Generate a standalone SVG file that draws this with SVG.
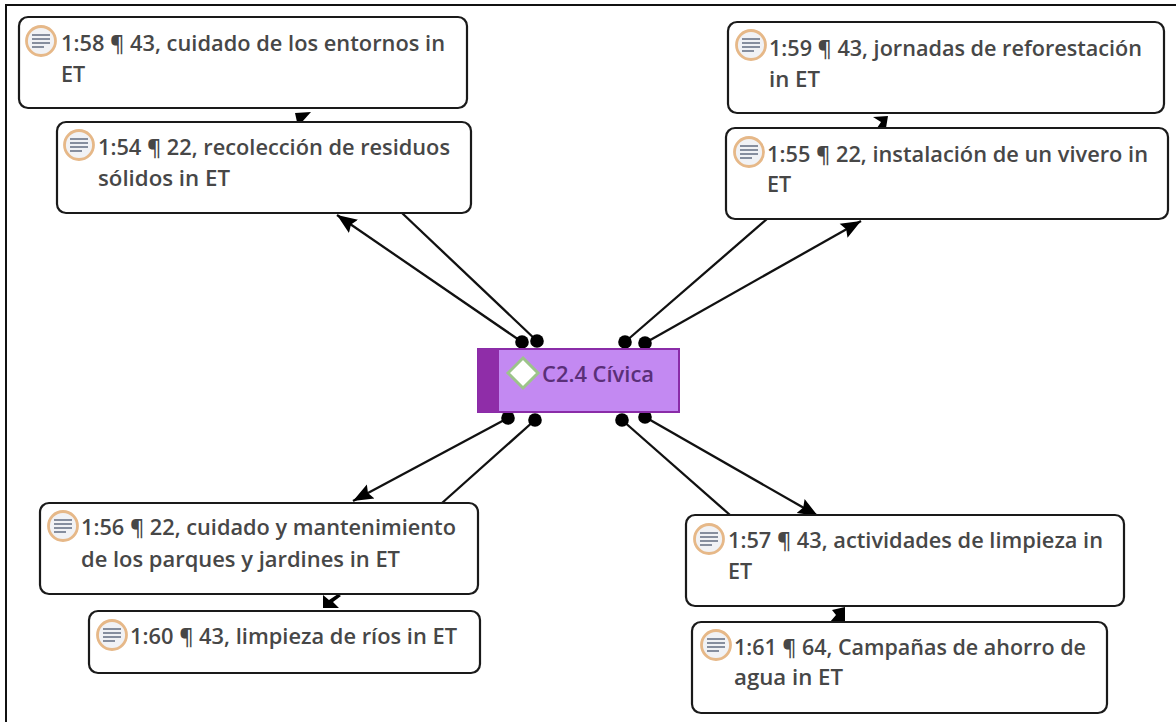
<svg xmlns="http://www.w3.org/2000/svg" width="1176" height="722" viewBox="0 0 1176 722">
<style>
.box{fill:#fff;stroke:#1a1a1a;stroke-width:2.200}
.t{font-family:"Open Sans","Noto Sans",sans-serif;font-size:21.500px;font-weight:600;fill:#474747}
.c{stroke:#111;stroke-width:2.300;fill:none}
.d{fill:#000}
.ic{fill:#f1f2f5;stroke:#e6b888;stroke-width:2.800}
.il{stroke:#868e9e;stroke-width:2.200;fill:none}
</style>
<defs>
<g id="doc"><circle cx="0" cy="0" r="14.500" class="ic"/><path class="il" d="M-9-6H9M-9-2H9M-9 2H9M-9 6H3"/></g>
<marker id="a" markerUnits="userSpaceOnUse" markerWidth="22" markerHeight="18" refX="20" refY="9" orient="auto"><path d="M0 1L20 9L0 17L3 9Z" fill="#000"/></marker>
</defs>
<rect width="1176" height="722" fill="#fff"/>
<path d="M6 722V5H1176" fill="none" stroke="#111" stroke-width="2"/>
<g id="connectors">
<path class="c" d="M522 342L337 215" marker-end="url(#a)"/>
<path class="c" d="M537 341L402 213"/>
<path class="c" d="M625 342L767 219"/>
<path class="c" d="M645 343L861 221" marker-end="url(#a)"/>
<path class="c" d="M508 418L353 501" marker-end="url(#a)"/>
<path class="c" d="M535 420L442 503"/>
<path class="c" d="M622 420L730 515"/>
<path class="c" d="M645 417L818 516" marker-end="url(#a)"/>
<path class="d" d="M295 113L311 112L302 122L297 122Z"/>
<path class="d" d="M873 117L888 116L886 128L877 128L881 122Z"/>
<path class="d" d="M323 595L329 600L338 594L341 596L333 602L339 608L323 608Z"/>
<path class="d" d="M845 607L845 622L830 622L836 615L832 610Z"/>
<circle class="d" cx="522" cy="342" r="6.800"/><circle class="d" cx="537" cy="341" r="6.800"/>
<circle class="d" cx="625" cy="342" r="6.800"/><circle class="d" cx="645" cy="343" r="6.800"/>
<circle class="d" cx="508" cy="418" r="6.800"/><circle class="d" cx="535" cy="420" r="6.800"/>
<circle class="d" cx="622" cy="420" r="6.800"/><circle class="d" cx="645" cy="417" r="6.800"/>
</g>
<g id="n58"><rect class="box" x="19" y="17" width="448" height="91" rx="9"/><use href="#doc" x="41" y="41"/><text class="t" x="61" y="51" textLength="384" lengthAdjust="spacingAndGlyphs">1:58 ¶ 43, cuidado de los entornos in</text><text class="t" x="61" y="82">ET</text></g>
<g id="n54"><rect class="box" x="57" y="122" width="414" height="91" rx="9"/><use href="#doc" x="79" y="145"/><text class="t" x="98" y="155" textLength="352" lengthAdjust="spacingAndGlyphs">1:54 ¶ 22, recolección de residuos</text><text class="t" x="98" y="186" textLength="132" lengthAdjust="spacingAndGlyphs">sólidos in ET</text></g>
<g id="n59"><rect class="box" x="728" y="22" width="436" height="91" rx="9"/><use href="#doc" x="751" y="45"/><text class="t" x="769" y="56" textLength="373" lengthAdjust="spacingAndGlyphs">1:59 ¶ 43, jornadas de reforestación</text><text class="t" x="769" y="87" textLength="51" lengthAdjust="spacingAndGlyphs">in ET</text></g>
<g id="n55"><rect class="box" x="726" y="128" width="442" height="91" rx="9"/><use href="#doc" x="749" y="152"/><text class="t" x="767" y="162" textLength="381" lengthAdjust="spacingAndGlyphs">1:55 ¶ 22, instalación de un vivero in</text><text class="t" x="767" y="192">ET</text></g>
<g id="n56"><rect class="box" x="40" y="503" width="438" height="91" rx="9"/><use href="#doc" x="63" y="526"/><text class="t" x="81" y="535" textLength="375" lengthAdjust="spacingAndGlyphs">1:56 ¶ 22, cuidado y mantenimiento</text><text class="t" x="81" y="567" textLength="319" lengthAdjust="spacingAndGlyphs">de los parques y jardines in ET</text></g>
<g id="n60"><rect class="box" x="89" y="611" width="391" height="62" rx="9"/><use href="#doc" x="112" y="635"/><text class="t" x="130" y="644" textLength="327" lengthAdjust="spacingAndGlyphs">1:60 ¶ 43, limpieza de ríos in ET</text></g>
<g id="n57"><rect class="box" x="686" y="515" width="438" height="91" rx="9"/><use href="#doc" x="709" y="539"/><text class="t" x="728" y="548" textLength="375" lengthAdjust="spacingAndGlyphs">1:57 ¶ 43, actividades de limpieza in</text><text class="t" x="728" y="579">ET</text></g>
<g id="n61"><rect class="box" x="692" y="622" width="415" height="91" rx="9"/><use href="#doc" x="716" y="645"/><text class="t" x="734" y="655" textLength="352" lengthAdjust="spacingAndGlyphs">1:61 ¶ 64, Campañas de ahorro de</text><text class="t" x="734" y="685" textLength="109" lengthAdjust="spacingAndGlyphs">agua in ET</text></g>
<g id="center"><rect x="478" y="349" width="201" height="63" fill="#c389f2" stroke="#8a2ca8" stroke-width="2"/><rect x="478" y="349" width="21" height="63" fill="#8f2da8"/><path d="M523 358L538 373L523 388L508 373Z" fill="#fff" stroke="#9cc48a" stroke-width="3"/><text x="542" y="382" font-family="'Open Sans','Noto Sans',sans-serif" font-size="21.500" font-weight="600" fill="#5a2f78" textLength="112" lengthAdjust="spacingAndGlyphs">C2.4 Cívica</text></g>
</svg>
